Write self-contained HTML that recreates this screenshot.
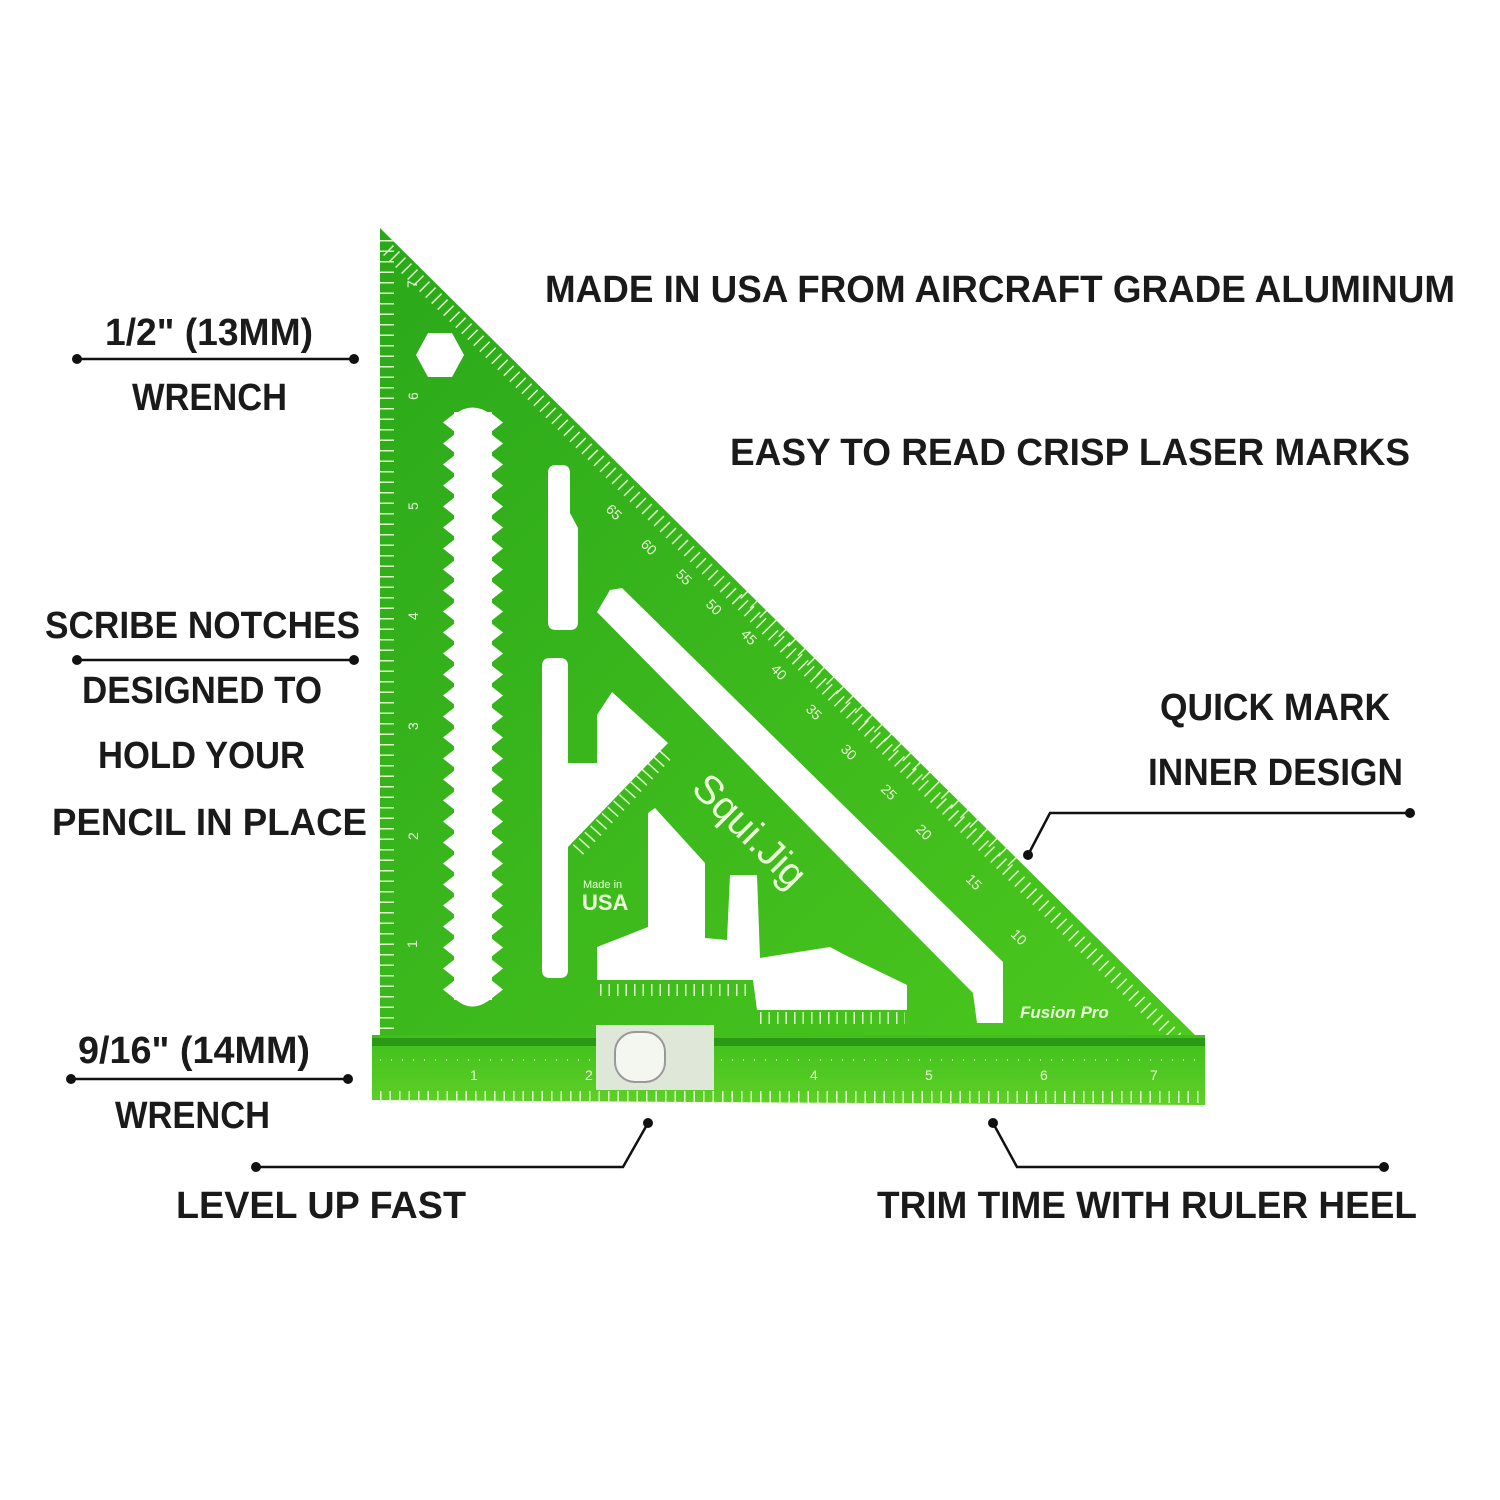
<!DOCTYPE html>
<html><head><meta charset="utf-8"><style>
html,body{margin:0;padding:0;background:#fff}
svg{display:block}
.t{font-family:"Liberation Sans",sans-serif;font-weight:bold;font-size:38px;fill:#1a1a1a}
.s{font-family:"Liberation Sans",sans-serif;fill:#eaffd8;font-size:14px}
</style></head><body>
<svg width="1500" height="1500" viewBox="0 0 1500 1500" xmlns="http://www.w3.org/2000/svg">
<defs>
<linearGradient id="g" x1="0" y1="0" x2="1" y2="1">
<stop offset="0" stop-color="#2aa81a"/><stop offset="1" stop-color="#4cc81e"/>
</linearGradient>
<linearGradient id="b" x1="0" y1="0" x2="0" y2="1">
<stop offset="0" stop-color="#3fbf1c"/><stop offset="1" stop-color="#5fd028"/>
</linearGradient>
<pattern id="teeth" x="440" y="412" width="66" height="21" patternUnits="userSpaceOnUse">
<rect x="14" y="0" width="38" height="21" fill="#fff"/>
<polygon points="15,1 3,10.5 15,20" fill="#fff"/>
<polygon points="51,1 63,10.5 51,20" fill="#fff"/>
</pattern>
<clipPath id="tri"><polygon points="380,228 1195,1035 380,1035"/></clipPath>
</defs>
<!-- triangle -->
<polygon points="380,228 1195,1035 380,1035" fill="url(#g)"/>
<!-- base bar -->
<polygon points="372,1035 1205,1035 1205,1105 372,1100" fill="url(#b)"/>
<rect x="372" y="1038" width="833" height="8" fill="#2a9a16"/>
<!-- ticks -->
<g stroke="#dfffc8" fill="none">
<line x1="388" y1="250" x2="1180" y2="1042" stroke-width="14" stroke-dasharray="1.5,7" clip-path="url(#tri)"/>
<line x1="387" y1="240" x2="387" y2="1030" stroke-width="14" stroke-dasharray="1.5,9"/>
<line x1="380" y1="1097" x2="1205" y2="1097" stroke-width="12" stroke-dasharray="1.5,8"/>
<line x1="745" y1="593" x2="1015" y2="863" stroke-width="14" stroke-dasharray="1.5,12"/>
<line x1="600" y1="990" x2="750" y2="990" stroke-width="12" stroke-dasharray="1.5,7"/>
<line x1="760" y1="1018" x2="905" y2="1018" stroke-width="12" stroke-dasharray="1.5,7"/>
<line x1="578" y1="850" x2="668" y2="752" stroke-width="14" stroke-dasharray="1.5,7"/>
<line x1="380" y1="1060" x2="1205" y2="1060" stroke-width="1.5" stroke-dasharray="1,10"/>
</g>
<!-- hex hole -->
<polygon points="428,333 452,333 464,355 452,377 428,377 416,355" fill="#fff"/>
<!-- notch column -->
<rect x="440" y="412" width="66" height="588" fill="url(#teeth)"/>
<path d="M454,415 Q472,400 492,415 Z M454,998 Q472,1015 492,998 Z" fill="#fff"/>
<!-- slots -->
<path d="M548,465 h14 q8,0 8,8 v40 l8,15 v94 q0,8 -8,8 h-14 q-8,0 -8,-8 v-149 q0,-8 8,-8 Z" fill="#fff"/>
<path d="M550,658 h10 q8,0 8,8 v97 h29 v-48 l15,-23 l56,51 l-100,104 v123 q0,8 -8,8 h-10 q-8,0 -8,-8 v-304 q0,-8 8,-8 Z" fill="#fff"/>
<!-- diagonal slot -->
<polygon points="610,590 622,588 1003,962 1003,1023 977,1023 973,993 597,612" fill="#fff"/>
<!-- inner cutout -->
<polygon points="597,947 648,927 648,813 655,808 705,863 705,938 727,940 730,875 757,875 760,958 830,947 845,955 907,985 907,1010 757,1010 753,980 597,980" fill="#fff"/>
<!-- level vial -->
<rect x="596" y="1025" width="118" height="65" fill="#dfe8d8"/>
<rect x="615" y="1032" width="50" height="50" rx="20" fill="#f4f7f0" stroke="#999" stroke-width="2"/>
<g class="s" font-size="22">
<text x="400" y="285" transform="rotate(-90 410 278)">7</text>
<text x="400" y="398" transform="rotate(-90 410 390)">6</text>
<text x="400" y="508" transform="rotate(-90 410 500)">5</text>
<text x="400" y="618" transform="rotate(-90 410 610)">4</text>
<text x="400" y="728" transform="rotate(-90 410 720)">3</text>
<text x="400" y="838" transform="rotate(-90 410 830)">2</text>
<text x="400" y="945" transform="rotate(-90 410 938)">1</text>
<text x="470" y="1080">1</text><text x="585" y="1080">2</text><text x="810" y="1080">4</text><text x="925" y="1080">5</text><text x="1040" y="1080">6</text><text x="1150" y="1080">7</text>
<text x="1020" y="1018" font-size="17" font-weight="bold" font-style="italic">Fusion Pro</text>
<text x="582" y="910" font-size="22" font-weight="bold">USA</text>
<text x="583" y="888" font-size="11">Made in</text>
<text x="690" y="790" font-size="40" transform="rotate(45 690 790)">Squi.Jig</text>
<text x="1010" y="935" transform="rotate(45 1010 935)">10</text>
<text x="965" y="880" transform="rotate(45 965 880)">15</text>
<text x="915" y="830" transform="rotate(45 915 830)">20</text>
<text x="880" y="790" transform="rotate(45 880 790)">25</text>
<text x="840" y="750" transform="rotate(45 840 750)">30</text>
<text x="805" y="710" transform="rotate(45 805 710)">35</text>
<text x="770" y="670" transform="rotate(45 770 670)">40</text>
<text x="740" y="635" transform="rotate(45 740 635)">45</text>
<text x="705" y="605" transform="rotate(45 705 605)">50</text>
<text x="675" y="575" transform="rotate(45 675 575)">55</text>
<text x="640" y="545" transform="rotate(45 640 545)">60</text>
<text x="605" y="510" transform="rotate(45 605 510)">65</text>
</g>
<!-- labels -->
<g class="t">
<text x="545" y="302" textLength="910" lengthAdjust="spacingAndGlyphs">MADE IN USA FROM AIRCRAFT GRADE ALUMINUM</text>
<text x="730" y="465" textLength="680" lengthAdjust="spacingAndGlyphs">EASY TO READ CRISP LASER MARKS</text>
<text x="105" y="345" textLength="208" lengthAdjust="spacingAndGlyphs">1/2" (13MM)</text>
<text x="132" y="410" textLength="155" lengthAdjust="spacingAndGlyphs">WRENCH</text>
<text x="45" y="638" textLength="315" lengthAdjust="spacingAndGlyphs">SCRIBE NOTCHES</text>
<text x="82" y="703" textLength="240" lengthAdjust="spacingAndGlyphs">DESIGNED TO</text>
<text x="98" y="768" textLength="207" lengthAdjust="spacingAndGlyphs">HOLD YOUR</text>
<text x="52" y="835" textLength="315" lengthAdjust="spacingAndGlyphs">PENCIL IN PLACE</text>
<text x="1160" y="720" textLength="230" lengthAdjust="spacingAndGlyphs">QUICK MARK</text>
<text x="1148" y="785" textLength="255" lengthAdjust="spacingAndGlyphs">INNER DESIGN</text>
<text x="78" y="1063" textLength="232" lengthAdjust="spacingAndGlyphs">9/16" (14MM)</text>
<text x="115" y="1128" textLength="155" lengthAdjust="spacingAndGlyphs">WRENCH</text>
<text x="176" y="1218" textLength="290" lengthAdjust="spacingAndGlyphs">LEVEL UP FAST</text>
<text x="877" y="1218" textLength="540" lengthAdjust="spacingAndGlyphs">TRIM TIME WITH RULER HEEL</text>
</g>
<g stroke="#111" stroke-width="2.5" fill="none">
<line x1="77" y1="359" x2="354" y2="359"/>
<line x1="77" y1="660" x2="354" y2="660"/>
<line x1="71" y1="1079" x2="348" y2="1079"/>
<polyline points="1410,813 1050,813 1028,855"/>
<polyline points="256,1167 623,1167 648,1123"/>
<polyline points="993,1123 1017,1167 1384,1167"/>
</g>
<g fill="#111">
<circle cx="77" cy="359" r="5"/><circle cx="354" cy="359" r="5"/>
<circle cx="77" cy="660" r="5"/><circle cx="354" cy="660" r="5"/>
<circle cx="71" cy="1079" r="5"/><circle cx="348" cy="1079" r="5"/>
<circle cx="1410" cy="813" r="5"/><circle cx="1028" cy="855" r="5"/>
<circle cx="256" cy="1167" r="5"/><circle cx="648" cy="1123" r="5"/>
<circle cx="993" cy="1123" r="5"/><circle cx="1384" cy="1167" r="5"/>
</g>
</svg>
</body></html>
